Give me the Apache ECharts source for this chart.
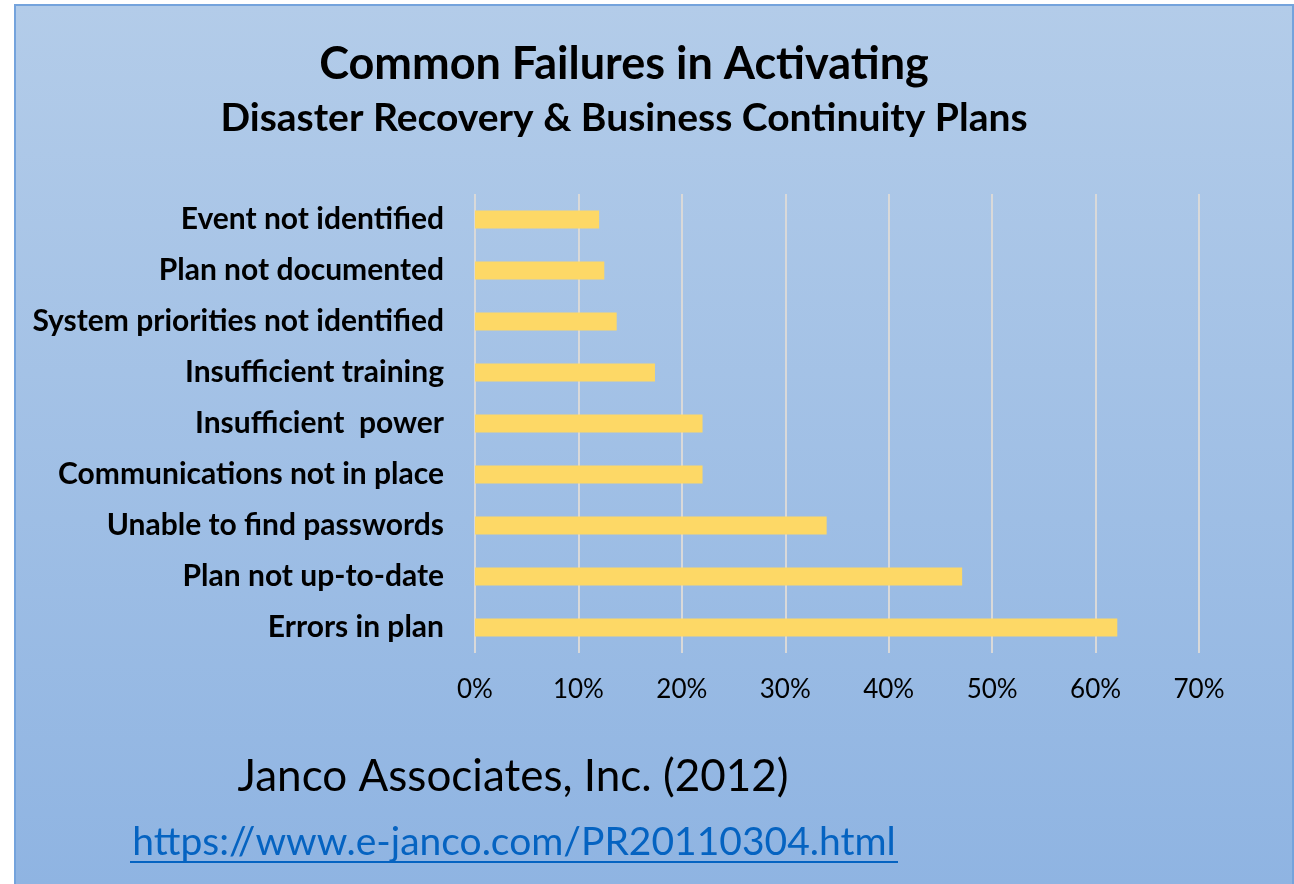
<!DOCTYPE html>
<html>
<head>
<meta charset="utf-8">
<script src="https://cdn.jsdelivr.net/npm/echarts@6/dist/echarts.min.js"></script>
<style>
  html, body { margin: 0; padding: 0; background: #ffffff; }
  #chart { width: 1294px; height: 884px; }
</style>
</head>
<body>
<div id="chart"></div>
<script>
// data (top to bottom)
const categories = [
  'Event not identified',
  'Plan not documented',
  'System priorities not identified',
  'Insufficient training',
  'Insufficient  power',
  'Communications not in place',
  'Unable to find passwords',
  'Plan not up-to-date',
  'Errors in plan'
];
const failureShare = [0.12, 0.125, 0.137, 0.174, 0.22, 0.22, 0.34, 0.471, 0.621];
const axisMax = 0.7;
const axisStep = 0.1;

const titleText = 'Common Failures in Activating';
const subtitleText = 'Disaster Recovery & Business Continuity Plans';
const sourceText = 'Janco Associates, Inc. (2012)';
const urlText = 'https://www.e-janco.com/PR20110304.html';

const fontFamily = 'Lato, "Open Sans", sans-serif';

const chart = echarts.init(document.getElementById('chart'));
const option = {
  backgroundColor: '#ffffff',
  animation: false,
  graphic: [
    {
      type: 'rect',
      z: -10,
      shape: { x: 15, y: 5, width: 1278, height: 880 },
      style: {
        fill: new echarts.graphic.LinearGradient(0, 0, 0, 1, [
          { offset: 0, color: '#b3cce9' },
          { offset: 1, color: '#8fb4e2' }
        ]),
        stroke: '#74a3dc',
        lineWidth: 2
      }
    },
    {
      type: 'text', x: 624, y: 64,
      style: { text: titleText, fontFamily, fontWeight: 'bold', fontSize: 45, fill: '#000', align: 'center', verticalAlign: 'middle' }
    },
    {
      type: 'text', x: 624, y: 118,
      style: { text: subtitleText, fontFamily, fontWeight: 'bold', fontSize: 39, fill: '#000', align: 'center', verticalAlign: 'middle' }
    },
    {
      type: 'text', x: 513, y: 777,
      style: { text: sourceText, fontFamily, fontSize: 44, fill: '#000', align: 'center', verticalAlign: 'middle' }
    },
    {
      type: 'text', x: 514, y: 842,
      style: { text: urlText, fontFamily, fontSize: 39, fill: '#0563c1', align: 'center', verticalAlign: 'middle' }
    },
    {
      type: 'line',
      shape: { x1: 130, y1: 862, x2: 898, y2: 862 },
      style: { stroke: '#0563c1', lineWidth: 2 }
    }
  ],
  grid: {
    left: 475,
    right: 95,
    top: 194,
    bottom: 231,
    containLabel: false
  },
  xAxis: {
    type: 'value',
    min: 0,
    max: axisMax,
    interval: axisStep,
    axisLine: { show: false },
    axisTick: { show: false },
    axisLabel: {
      color: '#000',
      fontFamily,
      fontSize: 26,
      margin: 24,
      formatter: v => Math.round(v * 100) + '%'
    },
    splitLine: { lineStyle: { color: '#d9d9d9', width: 2 } }
  },
  yAxis: {
    type: 'category',
    data: categories,
    inverse: true,
    axisLine: { show: false },
    axisTick: { show: false },
    axisLabel: {
      color: '#000',
      fontFamily,
      fontWeight: 'bold',
      fontSize: 30,
      margin: 31
    }
  },
  series: [
    {
      type: 'bar',
      data: failureShare,
      barWidth: 18,
      itemStyle: { color: '#fdd866' }
    }
  ]
};
chart.setOption(option);
</script>
</body>
</html>
